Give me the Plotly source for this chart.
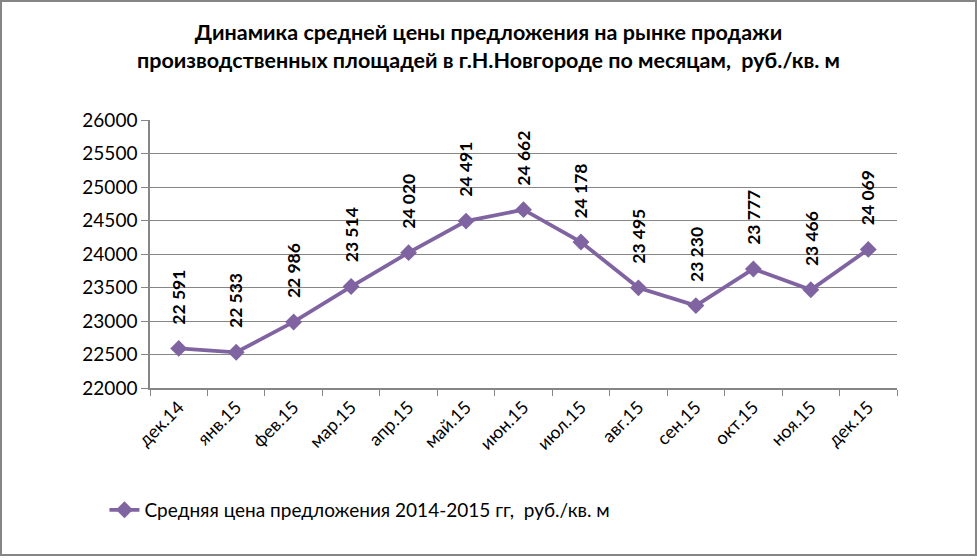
import plotly.graph_objects as go

months = ["дек.14", "янв.15", "фев.15", "мар.15", "апр.15", "май.15", "июн.15",
          "июл.15", "авг.15", "сен.15", "окт.15", "ноя.15", "дек.15"]
prices = [22591, 22533, 22986, 23514, 24020, 24491, 24662, 24178, 23495, 23230, 23777, 23466, 24069]
y_ticks = [22000, 22500, 23000, 23500, 24000, 24500, 25000, 25500, 26000]

series_name = "Средняя цена предложения 2014-2015 гг,  руб./кв. м"
title_text = ("Динамика средней цены предложения на рынке продажи<br>"
              "производственных площадей в г.Н.Новгороде по месяцам,  руб./кв. м")

color = "#8064A2"
font_family = "Lato, 'Open Sans', sans-serif"

fig = go.Figure()
fig.add_trace(go.Scatter(
    x=months, y=prices, mode="lines+markers", name=series_name,
    line=dict(color=color, width=3.8),
    marker=dict(symbol="diamond", size=13, color=color),
))

def fmt(v):
    return f"{v:,}".replace(",", " ")

for m, v in zip(months, prices):
    fig.add_annotation(x=m, y=v, xref="x", yref="y", text="<b>" + fmt(v) + "</b>",
                       textangle=-90, showarrow=False, yanchor="bottom",
                       yshift=22, font=dict(size=17.5, color="black", family=font_family))

fig.update_layout(
    width=977, height=560,
    paper_bgcolor="white", plot_bgcolor="white",
    margin=dict(l=150, r=80, t=120, b=172, autoexpand=False),
    title=dict(text="<b>" + title_text + "</b>", x=0.5, xanchor="center",
               y=0.928, yanchor="top",
               font=dict(size=21.5, color="black", family=font_family)),
    font=dict(family=font_family, color="black"),
    showlegend=True,
    legend=dict(orientation="h", x=-0.061, xanchor="left", y=-0.455, yanchor="middle",
                font=dict(size=19, color="black", family=font_family)),
    shapes=[dict(type="rect", xref="paper", yref="paper", x0=-149/747, x1=1 + 79/747,
                 y0=-167/268, y1=1 + 119/268, line=dict(color="#868686", width=2))],
)

fig.update_xaxes(
    type="category", range=[-0.5, len(months) - 0.5],
    tickson="boundaries", ticks="outside", ticklen=6,
    tickcolor="#868686", showline=True, linecolor="#868686", linewidth=1.5,
    showgrid=False, tickangle=-45, tickfont=dict(size=18, family=font_family),
)
fig.update_yaxes(
    range=[22000, 26000], tickvals=y_ticks, ticktext=[str(t) for t in y_ticks],
    showgrid=True, gridcolor="#868686", gridwidth=1,
    showline=True, linecolor="#868686", linewidth=1.5,
    ticks="outside", ticklen=7, tickcolor="#868686",
    tickfont=dict(size=19, family=font_family), zeroline=False,
)

fig.write_html("out.html", config={"displayModeBar": False},
               post_script="document.body.style.margin='0';document.body.style.overflow='hidden';")
